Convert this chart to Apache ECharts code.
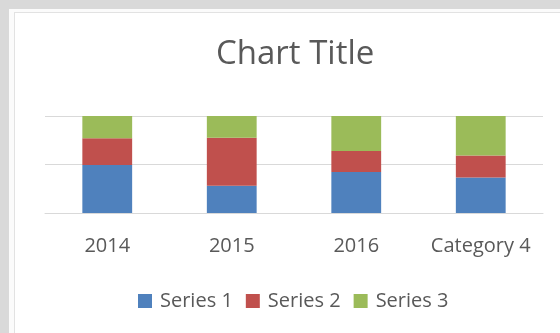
<!DOCTYPE html>
<html><head><meta charset="utf-8">
<script src="https://cdn.jsdelivr.net/npm/echarts@6/dist/echarts.min.js"></script>
<style>
html,body{margin:0;padding:0;width:560px;height:333px;overflow:hidden;background:#d9d9d9;}
#wrap{position:absolute;left:9px;top:9px;width:560px;height:330px;background:#fbfbfb;}
#chart{position:absolute;left:5px;top:3px;width:546px;height:321px;background:#fff;border-left:1px solid #e2e2e2;border-top:1px solid #e2e2e2;box-sizing:border-box;}
</style></head>
<body><div id="wrap"><div id="chart"></div></div>
<script>
const categories = ['2014', '2015', '2016', 'Category 4'];
const seriesNames = ['Series 1', 'Series 2', 'Series 3'];
const series1 = [4.3, 2.5, 3.5, 4.5];
const series2 = [2.4, 4.4, 1.8, 2.8];
const series3 = [2, 2, 3, 5];
const colors = ['#4F81BD', '#C0504D', '#9BBB59'];

const raw = [series1, series2, series3];
const totals = categories.map((c, i) => raw.reduce((s, arr) => s + arr[i], 0));
const pct = raw.map(arr => arr.map((v, i) => v / totals[i] * 100));

const chart = echarts.init(document.getElementById('chart'), null, {renderer: 'canvas'});
const font = '"Open Sans", "Liberation Sans", sans-serif';
chart.setOption({
  animation: false,
  color: colors,
  title: {
    text: 'Chart Title', left: 196, top: 20,
    textStyle: {fontFamily: font, fontSize: 33, fontWeight: 'normal', color: '#595959'}
  },
  legend: {
    data: seriesNames, bottom: 17, left: 118,
    itemWidth: 14, itemHeight: 14, itemGap: 13, icon: 'rect',
    textStyle: {fontFamily: font, fontSize: 20, color: '#595959', padding: [0, 0, 0, 3]}
  },
  grid: {left: 30, right: 17, top: 103, height: 97},
  xAxis: {
    type: 'category', data: categories,
    axisLine: {lineStyle: {color: '#d9d9d9'}},
    axisTick: {show: false},
    axisLabel: {fontFamily: font, fontSize: 20, color: '#595959', margin: 23, interval: 0, hideOverlap: false}
  },
  yAxis: {
    type: 'value', min: 0, max: 100, interval: 50,
    axisLabel: {show: false}, axisLine: {show: false}, axisTick: {show: false},
    splitLine: {lineStyle: {color: '#d9d9d9'}}
  },
  series: seriesNames.map((n, k) => ({
    name: n, type: 'bar', stack: 'total', barWidth: '40%', data: pct[k]
  }))
});
</script></body></html>
